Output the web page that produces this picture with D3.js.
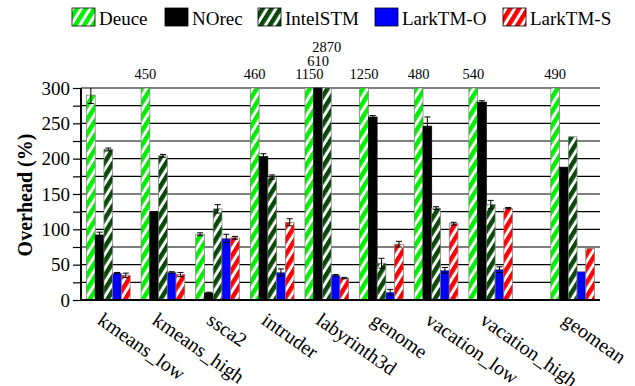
<!DOCTYPE html>
<html>
<head>
<meta charset="utf-8">
<script src="https://cdn.jsdelivr.net/npm/d3@7/dist/d3.min.js"></script>
<style>
  body { margin: 0; background: #fff; }
</style>
</head>
<body>
<svg id="chart" width="635" height="386"></svg>
<script>
const categories = ["kmeans_low", "kmeans_high", "ssca2", "intruder", "labyrinth3d",
  "genome", "vacation_low", "vacation_high", "geomean"];
const series = ["Deuce", "NOrec", "IntelSTM", "LarkTM-O", "LarkTM-S"];

// overhead (%) per benchmark
const deuce = [290, 450, 93, 460, 1150, 1250, 480, 540, 490];
const norec = [92, 124, 10, 203, 610, 259, 246, 280, 188];
const intelStm = [213, 204, 129, 174, 2870, 52, 130, 135, 231];
const larkO = [38, 39, 87, 39, 35, 11, 42, 43, 40];
const larkS = [35, 36, 88, 110, 31, 79, 108, 130, 73];

// error bar half widths
const deuceErr = [12, 0, 2, 0, 0, 0, 0, 0, 0];
const norecErr = [4, 1, 1, 4, 0, 2, 13, 2, 0];
const intelErr = [2, 2, 6, 3, 0, 7, 2, 6, 0];
const larkOErr = [1, 1, 6, 5, 1, 4, 4, 4, 0];
const larkSErr = [3, 3, 2, 5, 1, 4, 2, 1, 0];

const yTicks = [0, 25, 50, 75, 100, 125, 150, 175, 200, 225, 250, 275, 300];

const values = [deuce, norec, intelStm, larkO, larkS];
const errors = [deuceErr, norecErr, intelErr, larkOErr, larkSErr];
const colors = ["#00f000", "#000000", "#064a06", "#0000ff", "#ff0000"];
const hatched = [true, false, true, false, true];

const FONT = "Liberation Serif";
const svg = d3.select("#chart");
const plotLeft = 81, plotRight = 600, plotTop = 88, plotBottom = 300;
const yMax = 300;

// geomean sits half a slot further right
const slotOf = i => i < 8 ? i : 8.5;
const x = d3.scaleLinear().domain([0, 9.5]).range([plotLeft, plotRight]);
const slotW = x(1) - x(0);
const inner = d3.scaleBand().domain(series).range([0.1 * slotW, 0.9 * slotW]);
const y = d3.scaleLinear().domain([0, yMax]).range([plotBottom, plotTop]);

// stripe patterns
const defs = svg.append("defs");
series.forEach((s, i) => {
  if (!hatched[i]) return;
  const p = defs.append("pattern")
    .attr("id", "hatch" + i)
    .attr("patternUnits", "userSpaceOnUse")
    .attr("width", 7.5).attr("height", 7.5)
    .attr("patternTransform", "rotate(32)");
  p.append("rect").attr("width", 7.5).attr("height", 7.5).attr("fill", "#fff");
  p.append("rect").attr("width", 4.5).attr("height", 7.5).attr("fill", colors[i]);
});
const fillOf = i => hatched[i] ? "url(#hatch" + i + ")" : colors[i];

// grid
svg.append("g")
  .selectAll("line")
  .data(yTicks.filter(t => t > 0))
  .join("line")
  .attr("x1", plotLeft).attr("x2", plotRight)
  .attr("y1", d => y(d)).attr("y2", d => y(d))
  .attr("stroke", "#000").attr("stroke-width", 1.2);

// bars
const rows = [];
categories.forEach((c, ci) => {
  series.forEach((s, si) => {
    rows.push({ ci, si, v: values[si][ci], e: errors[si][ci] });
  });
});
const bx = d => x(slotOf(d.ci)) + inner(series[d.si]);

svg.append("g")
  .selectAll("rect")
  .data(rows)
  .join("rect")
  .attr("x", bx)
  .attr("width", inner.bandwidth())
  .attr("y", d => y(Math.min(d.v, yMax)))
  .attr("height", d => y(0) - y(Math.min(d.v, yMax)))
  .attr("fill", d => fillOf(d.si))
  .attr("stroke", d => d.si === 1 ? "#000" : "#777")
  .attr("stroke-width", 0.7);

// error bars
const eb = svg.append("g").attr("stroke", "#000").attr("stroke-width", 1);
rows.filter(d => d.e > 0 && d.v < yMax).forEach(d => {
  const cx = bx(d) + inner.bandwidth() / 2;
  const hi = Math.min(d.v + d.e, yMax), lo = d.v - d.e;
  eb.append("line").attr("x1", cx).attr("x2", cx).attr("y1", y(hi)).attr("y2", y(lo));
  if (d.v + d.e <= yMax) {
    eb.append("line").attr("x1", cx - 3).attr("x2", cx + 3).attr("y1", y(hi)).attr("y2", y(hi));
  }
  eb.append("line").attr("x1", cx - 3).attr("x2", cx + 3).attr("y1", y(lo)).attr("y2", y(lo));
});

// labels for clipped bars
categories.forEach((c, ci) => {
  let level = 0;
  series.forEach((s, si) => {
    const v = values[si][ci];
    if (v <= yMax) return;
    svg.append("text")
      .attr("x", bx({ ci, si }) + inner.bandwidth() / 2)
      .attr("y", 79 - level * 13.5)
      .attr("text-anchor", "middle")
      .style("font-family", FONT)
      .attr("font-size", 14.5)
      .text(v);
    level++;
  });
});

// axes
const yAxis = d3.axisLeft(y)
  .tickValues(yTicks)
  .tickSize(8)
  .tickFormat(d => d % 50 === 0 ? d : "");
const ya = svg.append("g").attr("transform", `translate(${plotLeft},0)`).call(yAxis);
ya.select(".domain").remove();
ya.selectAll(".tick line").attr("stroke", "#000").attr("stroke-width", 1.2);
ya.selectAll(".tick text")
  .style("font-family", FONT)
  .attr("font-size", 19).attr("x", -11).attr("fill", "#000");

svg.append("line").attr("x1", plotLeft).attr("x2", plotLeft).attr("y1", plotTop).attr("y2", plotBottom)
  .attr("stroke", "#000").attr("stroke-width", 2);
svg.append("line").attr("x1", plotLeft - 1).attr("x2", plotRight).attr("y1", plotBottom).attr("y2", plotBottom)
  .attr("stroke", "#000").attr("stroke-width", 2.2);

// category labels
svg.append("g")
  .selectAll("text")
  .data(categories)
  .join("text")
  .attr("transform", (d, i) => `translate(${x(slotOf(i) + 0.5) - 12},323) rotate(35)`)
  .style("font-family", FONT)
  .attr("font-size", 20)
  .text(d => d);

// y title
svg.append("text")
  .attr("transform", "translate(32,195) rotate(-90)")
  .attr("text-anchor", "middle")
  .style("font-family", FONT)
  .attr("font-size", 20)
  .attr("font-weight", "bold")
  .text("Overhead (%)");

// legend
const legendX = [72, 165, 258, 375, 503];
const lg = svg.append("g");
series.forEach((s, i) => {
  lg.append("rect")
    .attr("x", legendX[i]).attr("y", 8)
    .attr("width", 23).attr("height", 18)
    .attr("fill", fillOf(i))
    .attr("stroke", "#000").attr("stroke-width", 0.8);
  lg.append("text")
    .attr("x", legendX[i] + 27).attr("y", 25)
    .style("font-family", FONT)
    .attr("font-size", 19)
    .text(s);
});
</script>
</body>
</html>
